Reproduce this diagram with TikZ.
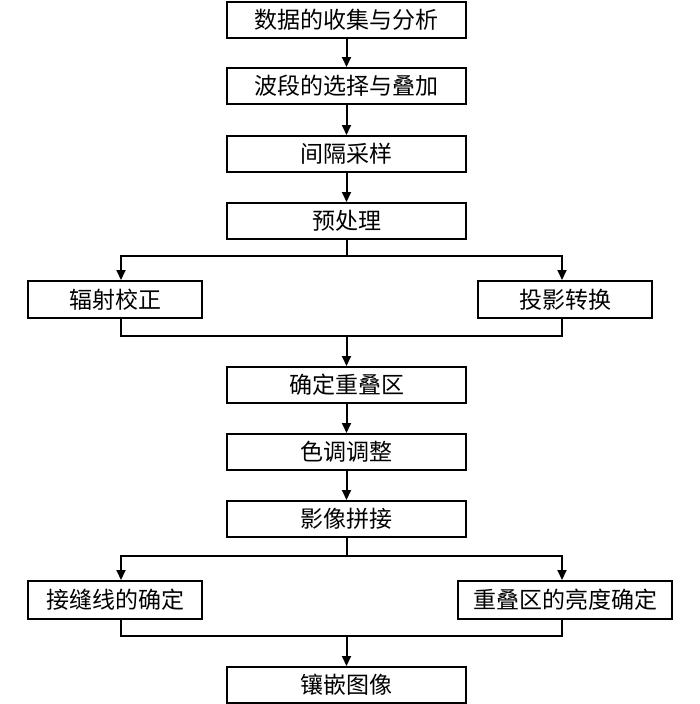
\documentclass[tikz,border=0pt]{standalone}
\usepackage{fontspec}
\newfontfamily\cjk{Noto Sans CJK SC}
\usetikzlibrary{arrows.meta,calc}
\begin{document}
\begin{tikzpicture}[x=1pt,y=-1pt,
  box/.style={draw=black,line width=2pt,rectangle,inner sep=0pt,
    minimum width=239pt,minimum height=36pt,font=\cjk\fontsize{23}{23}\selectfont},
  line/.style={draw=black,line width=2pt},
  arr/.style={line,-{Triangle[length=10pt,width=9pt]}}]
\useasboundingbox (0,0) rectangle (700,704);
\node[box] (b1) at (346.5,19.5) {数据的收集与分析};
\node[box] (b2) at (346.5,86) {波段的选择与叠加};
\node[box] (b3) at (346.5,154) {间隔采样};
\node[box] (b4) at (346.5,221) {预处理};
\node[box,minimum width=174pt,minimum height=37pt] (l1) at (115,299.5) {辐射校正};
\node[box,minimum width=174pt,minimum height=37pt] (r1) at (565,299.5) {投影转换};
\node[box] (b5) at (346.5,385) {确定重叠区};
\node[box] (b6) at (346.5,452) {色调调整};
\node[box] (b7) at (346.5,519) {影像拼接};
\node[box,minimum width=174pt,minimum height=38pt] (l2) at (115,600) {接缝线的确定};
\node[box,minimum width=214pt,minimum height=38pt] (r2) at (565,600) {重叠区的亮度确定};
\node[box] (b8) at (346.5,685) {镶嵌图像};
\draw[arr] (b1) -- (b2);
\draw[arr] (b2) -- (b3);
\draw[arr] (b3) -- (b4);
\coordinate (s1) at (346.5,256);
\coordinate (m1) at (346.5,336);
\coordinate (s2) at (346.5,556);
\coordinate (m2) at (346.5,636);
\draw[line] (b4.south) -- (s1);
\draw[arr] (s1) -| ([xshift=6pt]l1.north);
\draw[arr] (s1) -| ([xshift=-3pt]r1.north);
\draw[line] ([xshift=6pt]l1.south) |- (m1) -| ([xshift=-3pt]r1.south);
\draw[arr] (m1) -- (b5.north);
\draw[arr] (b5) -- (b6);
\draw[arr] (b6) -- (b7);
\draw[line] (b7.south) -- (s2);
\draw[arr] (s2) -| ([xshift=6pt]l2.north);
\draw[arr] (s2) -| ([xshift=-3pt]r2.north);
\draw[line] ([xshift=6pt]l2.south) |- (m2) -| ([xshift=-3pt]r2.south);
\draw[arr] (m2) -- (b8.north);
\end{tikzpicture}
\end{document}
